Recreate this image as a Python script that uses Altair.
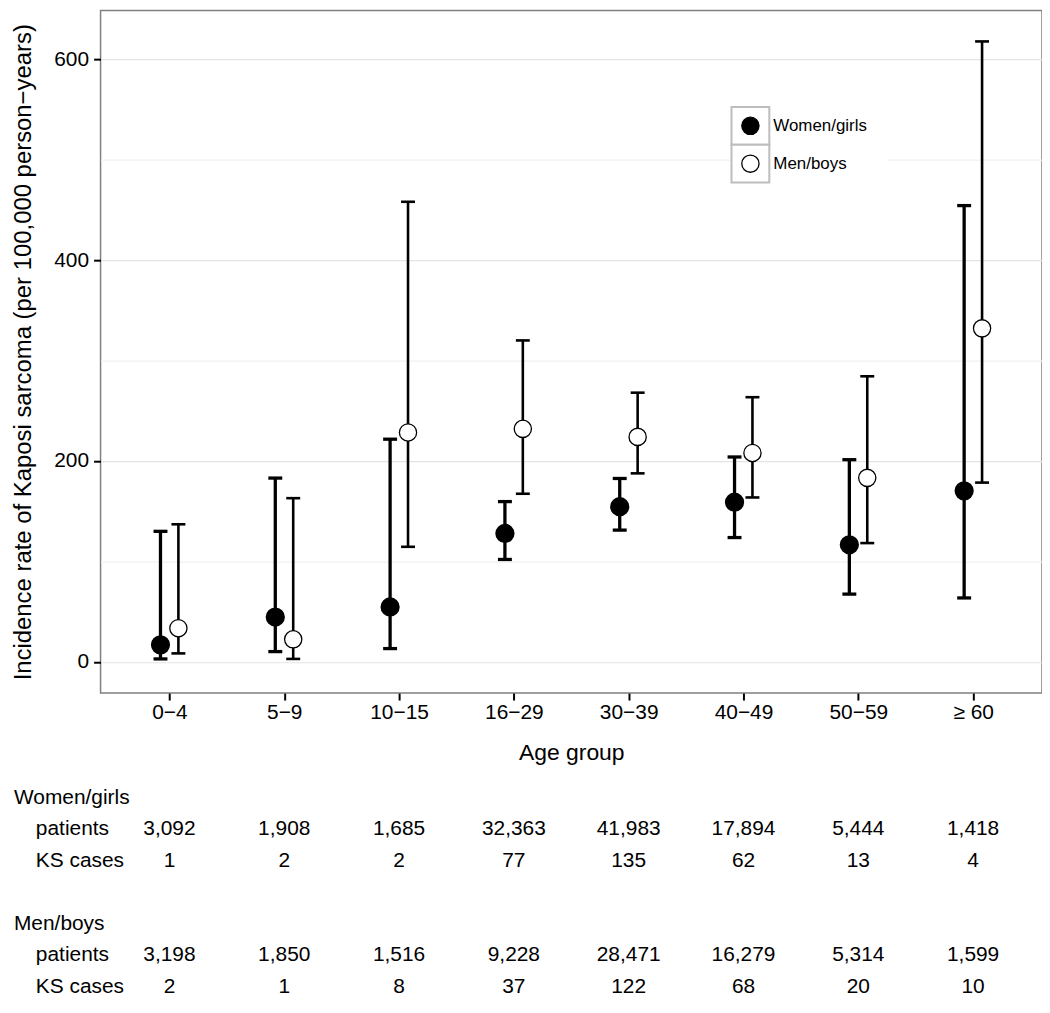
import altair as alt
import pandas as pd

# ---------------- data ----------------
age_groups = ["0−4", "5−9", "10−15", "16−29", "30−39", "40−49", "50−59", "≥ 60"]
sex_groups = ["Women/girls", "Men/boys"]

women_rate = [17.0, 44.7, 54.7, 127.9, 154.5, 159.0, 116.6, 170.3]
women_lo = [3.0, 10.3, 13.3, 102.0, 131.2, 123.8, 67.5, 63.7]
women_hi = [130.0, 183.0, 221.7, 159.6, 182.6, 204.0, 201.3, 454.2]

men_rate = [33.6, 22.5, 228.4, 232.0, 224.0, 208.0, 183.2, 332.0]
men_lo = [8.5, 3.0, 114.6, 167.4, 187.7, 163.7, 118.3, 178.5]
men_hi = [137.0, 163.0, 458.0, 320.0, 268.0, 263.5, 284.3, 617.6]

women_patients = ["3,092", "1,908", "1,685", "32,363", "41,983", "17,894", "5,444", "1,418"]
women_cases = ["1", "2", "2", "77", "135", "62", "13", "4"]
men_patients = ["3,198", "1,850", "1,516", "9,228", "28,471", "16,279", "5,314", "1,599"]
men_cases = ["2", "1", "8", "37", "122", "68", "20", "10"]

row_ids = ["w_head", "w_pat", "w_ks", "gap", "m_head", "m_pat", "m_ks"]
group_labels = ["Women/girls", "Men/boys"]
sub_labels = ["patients", "KS cases"]

# ---------------- tables built from the lists ----------------
recs = []
for i, a in enumerate(age_groups):
    recs.append(dict(age=a, sex="Women/girls", rate=women_rate[i], lo=women_lo[i], hi=women_hi[i]))
    recs.append(dict(age=a, sex="Men/boys", rate=men_rate[i], lo=men_lo[i], hi=men_hi[i]))
df = pd.DataFrame(recs)

nums = []
for i, a in enumerate(age_groups):
    nums.append(dict(age=a, row="w_pat", txt=women_patients[i]))
    nums.append(dict(age=a, row="w_ks", txt=women_cases[i]))
    nums.append(dict(age=a, row="m_pat", txt=men_patients[i]))
    nums.append(dict(age=a, row="m_ks", txt=men_cases[i]))
nums_df = pd.DataFrame(nums)

heads_df = pd.DataFrame({"row": ["w_head", "m_head"], "txt": group_labels})
subs_df = pd.DataFrame({"row": ["w_pat", "w_ks", "m_pat", "m_ks"],
                        "txt": sub_labels + sub_labels})
leg_df = pd.DataFrame({"key": sex_groups})

# ---------------- layout ----------------
W, H = 946, 686
FONT = "Liberation Sans, Arial, Helvetica, sans-serif"
TXT = 21

xs = alt.Scale(type="point", domain=age_groups, padding=0.6)
x_axis = alt.Axis(title="Age group", labelAngle=0, labelFontSize=21, labelColor="black",
                  labelPadding=2, tickColor="black", tickWidth=2, tickSize=7,
                  domain=False, grid=False, titleFontSize=23, titleFontWeight="normal",
                  titleColor="black", titlePadding=19)
X = alt.X("age:N", scale=xs, axis=x_axis)
XO = alt.XOffset("sex:N", scale=alt.Scale(type="point", domain=sex_groups, range=[-9, 9], padding=0))

ys = alt.Scale(domain=[-31, 648.5], nice=False, zero=False)
major = "datum.value % 200 === 0"
y_axis = alt.Axis(
    title="Incidence rate of Kaposi sarcoma (per 100,000 person−years)",
    values=[0, 100, 200, 300, 400, 500, 600],
    labelExpr="datum.value % 200 === 0 ? datum.label : ''",
    labelFontSize=21, labelColor="black", labelPadding=5,
    tickSize=7, tickWidth=2,
    tickColor=alt.condition(major, alt.value("black"), alt.value("transparent")),
    gridColor=alt.condition(major, alt.value("#e4e4e4"), alt.value("#f1f1f1")),
    gridWidth=1.2, domain=False,
    titleFontSize=24, titleFontWeight="normal", titleColor="black", titlePadding=18,
)


def series(sex, lw, point_kw):
    base = alt.Chart(df).transform_filter(alt.datum.sex == sex)
    rule = base.mark_rule(color="black", strokeWidth=lw).encode(
        x=X, xOffset=XO, y=alt.Y("lo:Q", scale=ys, axis=y_axis), y2="hi:Q")
    cap_lo = base.mark_tick(color="black", size=14, thickness=lw, orient="horizontal", opacity=1).encode(
        x=X, xOffset=XO, y=alt.Y("lo:Q", scale=ys, axis=y_axis))
    cap_hi = base.mark_tick(color="black", size=14, thickness=lw, orient="horizontal", opacity=1).encode(
        x=X, xOffset=XO, y=alt.Y("hi:Q", scale=ys, axis=y_axis))
    pt = base.mark_point(opacity=1, **point_kw).encode(
        x=X, xOffset=XO, y=alt.Y("rate:Q", scale=ys, axis=y_axis))
    return [rule, cap_lo, cap_hi, pt]


main = alt.layer(
    *series("Women/girls", 3.3, dict(filled=True, fill="black", stroke="black", size=300, shape="circle")),
    *series("Men/boys", 2.6, dict(filled=True, fill="white", stroke="black", strokeWidth=1.3,
                                  size=300, shape="circle")),
)

# ---- table under the plot ----
row_y = alt.Y("row:N", scale=alt.Scale(type="point", domain=row_ids, range=[H + 105, H + 295], padding=0),
              axis=None)
table_nums = alt.Chart(nums_df).mark_text(fontSize=TXT, color="black", baseline="middle").encode(
    x=X, y=row_y, text="txt:N")
table_heads = alt.Chart(heads_df).mark_text(fontSize=TXT, color="black", baseline="middle", align="left").encode(
    x=alt.value(-87), y=row_y, text="txt:N")
table_subs = alt.Chart(subs_df).mark_text(fontSize=TXT, color="black", baseline="middle", align="left").encode(
    x=alt.value(-65), y=row_y, text="txt:N")

# ---- legend inside the panel ----
leg_y = alt.Y("key:N", scale=alt.Scale(type="point", domain=sex_groups, range=[116, 154], padding=0), axis=None)
leg_bg = alt.Chart(leg_df).mark_rect(fill="white").encode(
    x=alt.value(633), x2=alt.value(790), y=alt.value(96), y2=alt.value(174))
leg_box = alt.Chart(leg_df).mark_square(size=38 * 38, fill="white", stroke="#bdbdbd",
                                        strokeWidth=2, opacity=1).encode(x=alt.value(653), y=leg_y)
leg_pt = alt.Chart(leg_df).mark_point(filled=True, stroke="black", strokeWidth=1.3, size=300,
                                      shape="circle", opacity=1).encode(
    x=alt.value(653), y=leg_y,
    fill=alt.Fill("key:N", scale=alt.Scale(domain=sex_groups, range=["black", "white"]), legend=None))
leg_txt = alt.Chart(leg_df).mark_text(fontSize=17, color="black", align="left", baseline="middle").encode(
    x=alt.value(676), y=leg_y, text="key:N")

chart = alt.layer(
    main, table_nums, table_heads, table_subs, leg_bg, leg_box, leg_pt, leg_txt
).resolve_scale(y="independent").properties(
    width=W, height=H, padding={"left": 3, "top": 0, "right": 0, "bottom": 0}
).configure(font=FONT).configure_view(stroke="#808080", strokeWidth=1.5)

chart.save("out.html", embed_options={"renderer": "svg", "actions": False})
